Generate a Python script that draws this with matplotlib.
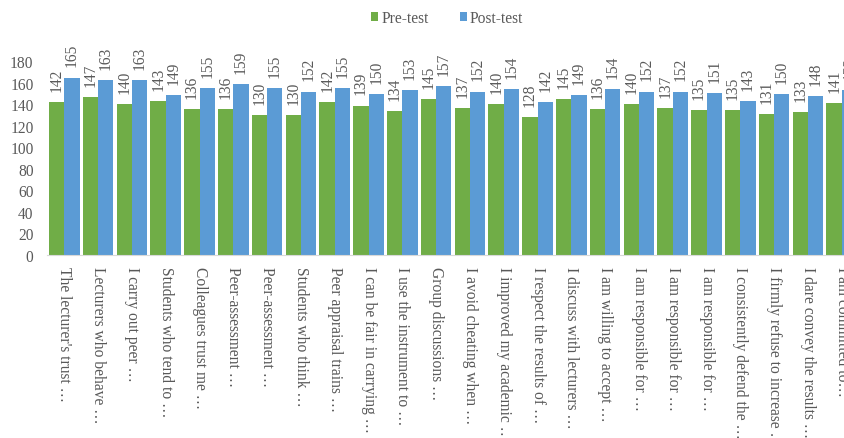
import matplotlib
matplotlib.use("Agg")
import matplotlib.pyplot as plt
import numpy as np

categories = [
    "The lecturer's trust \u2026",
    "Lecturers who behave \u2026",
    "I carry out peer \u2026",
    "Students who tend to \u2026",
    "Colleagues trust me \u2026",
    "Peer-assessment \u2026",
    "Peer-assessment \u2026",
    "Students who think \u2026",
    "Peer appraisal trains \u2026",
    "I can be fair in carrying \u2026",
    "I use the instrument to \u2026",
    "Group discussions \u2026",
    "I avoid cheating when \u2026",
    "I improved my academic \u2026",
    "I respect the results of \u2026",
    "I discuss with lecturers \u2026",
    "I am willing to accept \u2026",
    "I am responsible for \u2026",
    "I am responsible for \u2026",
    "I am responsible for \u2026",
    "I consistently defend the \u2026",
    "I firmly refuse to increase \u2026",
    "I dare convey the results \u2026",
    "I am committed to\u2026",
]
pre_test = [142, 147, 140, 143, 136, 136, 130, 130, 142, 139, 134, 145,
            137, 140, 128, 145, 136, 140, 137, 135, 135, 131, 133, 141]
post_test = [165, 163, 163, 149, 155, 159, 155, 152, 155, 150, 153, 157,
             152, 154, 142, 149, 154, 152, 152, 151, 143, 150, 148, 153]
yticks = [0, 20, 40, 60, 80, 100, 120, 140, 160, 180]

plt.rcParams['font.family'] = ['Liberation Serif', 'DejaVu Serif']
txt = '#595959'
fs = 11.2

fig = plt.figure(figsize=(8.45, 4.39), dpi=100)
ax = fig.add_axes([0.0561, 0.4169, 0.96, 0.4408])

x = np.arange(len(categories))
w = 0.45
b1 = ax.bar(x - w / 2, pre_test, w, color='#70AD47', label='Pre-test')
b2 = ax.bar(x + w / 2, post_test, w, color='#5B9BD5', label='Post-test')

for bars, vals in ((b1, pre_test), (b2, post_test)):
    for rect, v in zip(bars, vals):
        ax.annotate(str(v), (rect.get_x() + rect.get_width() / 2, v),
                    xytext=(0, 8), textcoords='offset points',
                    rotation=90, ha='center', va='bottom',
                    fontsize=fs, color=txt, clip_on=False,
                    annotation_clip=False)

ax.set_xlim(-0.5, len(categories) - 0.5)
ax.set_ylim(0, 180)
ax.set_yticks(yticks)
ax.set_xticks(x)
ax.set_xticklabels(categories, rotation=-90, ha='center', va='top',
                   fontsize=fs, color=txt)
ax.tick_params(axis='y', length=0, pad=10, labelsize=fs, labelcolor=txt)
ax.tick_params(axis='x', length=0, pad=8)
for s in ('top', 'right', 'left'):
    ax.spines[s].set_visible(False)
ax.spines['bottom'].set_color('#D9D9D9')

fig.legend(handles=[b1, b2], labels=['Pre-test', 'Post-test'],
           loc='center', bbox_to_anchor=(0.529, 0.957), ncol=2, frameon=False,
           fontsize=fs, handlelength=0.45, handleheight=0.45,
           handletextpad=0.2, columnspacing=2.0, labelcolor=txt)

fig.savefig('out.png', dpi=100)
